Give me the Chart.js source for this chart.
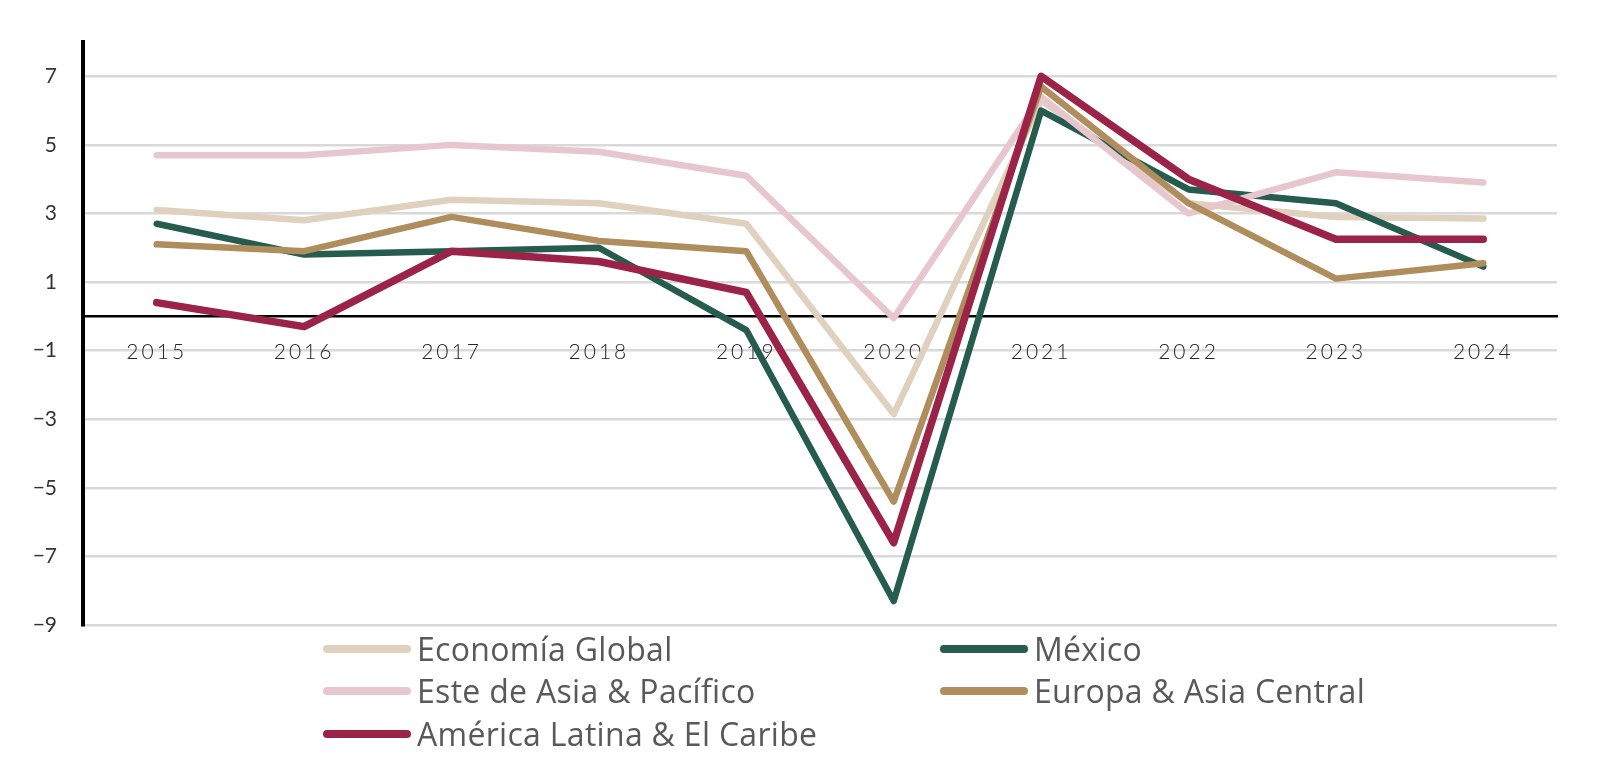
<!DOCTYPE html>
<html>
<head>
<meta charset="utf-8">
<script src="https://cdn.jsdelivr.net/npm/chart.js@4.4.1/dist/chart.umd.min.js"></script>
<style>
  html, body { margin: 0; padding: 0; background: #ffffff; }
  #wrap { position: relative; width: 1603px; height: 780px; }
  #c { position: absolute; left: 0; top: 0; }
  .lg-item { position: absolute; height: 40px; display: flex; align-items: center; }
  .lg-line { width: 88px; height: 8px; border-radius: 4px; margin-right: 6px; }
  .lg-text { font-family: "Open Sans", sans-serif; font-size: 32px; letter-spacing: 0.3px; color: #595959; white-space: nowrap; line-height: 40px; }
</style>
</head>
<body>
<div id="wrap">
  <canvas id="c" width="1603" height="780"></canvas>
  <div id="legend"></div>
</div>
<script>
const categories = ["2015","2016","2017","2018","2019","2020","2021","2022","2023","2024"];
const seriesNames = ["Economía Global","México","Este de Asia & Pacífico","Europa & Asia Central","América Latina & El Caribe"];
const economiaGlobal = [3.1, 2.8, 3.4, 3.3, 2.7, -2.85, 6.3, 3.3, 2.9, 2.85];
const mexico        = [2.7, 1.8, 1.9, 2.0, -0.4, -8.3, 6.0, 3.7, 3.3, 1.45];
const esteAsia      = [4.7, 4.7, 5.0, 4.8, 4.1, -0.05, 6.4, 3.0, 4.2, 3.9];
const europaAsia    = [2.1, 1.9, 2.9, 2.2, 1.9, -5.4, 6.7, 3.3, 1.1, 1.55];
const americaLatina = [0.4, -0.3, 1.9, 1.6, 0.7, -6.6, 7.0, 4.0, 2.25, 2.25];
const yTickValues = [-9, -7, -5, -3, -1, 1, 3, 5, 7];
const yMin = -9, yMax = 8;

const colors = ["#E0D1BE", "#255C4D", "#E7C7CD", "#B08D5D", "#9C2348"];
const widths = [6.5, 6.5, 6.5, 6.5, 7.5];
const seriesData = [economiaGlobal, mexico, esteAsia, europaAsia, americaLatina];

const datasets = seriesData.map((d, i) => ({
  label: seriesNames[i],
  data: d,
  borderColor: colors[i],
  backgroundColor: colors[i],
  borderWidth: widths[i],
  pointRadius: 0,
  pointHoverRadius: 0,
  tension: 0,
  fill: false,
  borderJoinStyle: 'round',
  borderCapStyle: 'round',
  order: 5 - i
}));

const chart = new Chart(document.getElementById('c'), {
  type: 'line',
  data: { labels: categories, datasets },
  options: {
    responsive: false,
    animation: false,
    devicePixelRatio: 1,
    layout: { padding: { left: 0, right: 46, top: 42, bottom: 155 } },
    plugins: { legend: { display: false }, tooltip: { enabled: false } },
    scales: {
      x: {
        type: 'category',
        position: { y: 0 },
        offset: true,
        grid: { display: false, drawTicks: false },
        border: { display: true, color: '#000000', width: 2.5 },
        ticks: {
          color: '#262626',
          font: { family: 'Lato', size: 21, weight: 300 },
          padding: 23,
          maxRotation: 0,
          autoSkip: false
        }
      },
      y: {
        min: yMin,
        max: yMax,
        afterBuildTicks(scale) { scale.ticks = yTickValues.map(v => ({ value: v })); },
        afterFit(scale) { scale.width = 83; },
        grid: { color: '#D9D9D9', lineWidth: 2.5, drawTicks: false },
        border: { display: true, color: '#000000', width: 4 },
        ticks: {
          color: '#333333',
          font: { family: 'Lato', size: 21, weight: 400 },
          padding: 26,
          callback: (v) => (v < 0 ? '\u2212' + Math.abs(v) : String(v))
        }
      }
    }
  }
});

// letter-spaced category labels (only on the x axis)
const xScale = chart.scales.x;
const origDrawLabels = xScale.drawLabels.bind(xScale);
xScale.drawLabels = function (area) {
  const ctx = chart.ctx;
  ctx.save();
  ctx.letterSpacing = '3px';
  origDrawLabels(area);
  ctx.restore();
};
chart.draw();

// HTML legend in two columns
const legendPos = [
  { left: 323, top: 629 }, { left: 940, top: 629 },
  { left: 323, top: 671 }, { left: 940, top: 671 },
  { left: 323, top: 714 }
];
const lg = document.getElementById('legend');
chart.data.datasets.forEach((ds, i) => {
  const item = document.createElement('div');
  item.className = 'lg-item';
  item.style.left = legendPos[i].left + 'px';
  item.style.top = legendPos[i].top + 'px';
  const line = document.createElement('div');
  line.className = 'lg-line';
  line.style.background = ds.borderColor;
  const txt = document.createElement('span');
  txt.className = 'lg-text';
  txt.textContent = ds.label;
  item.appendChild(line);
  item.appendChild(txt);
  lg.appendChild(item);
});
</script>
</body>
</html>
